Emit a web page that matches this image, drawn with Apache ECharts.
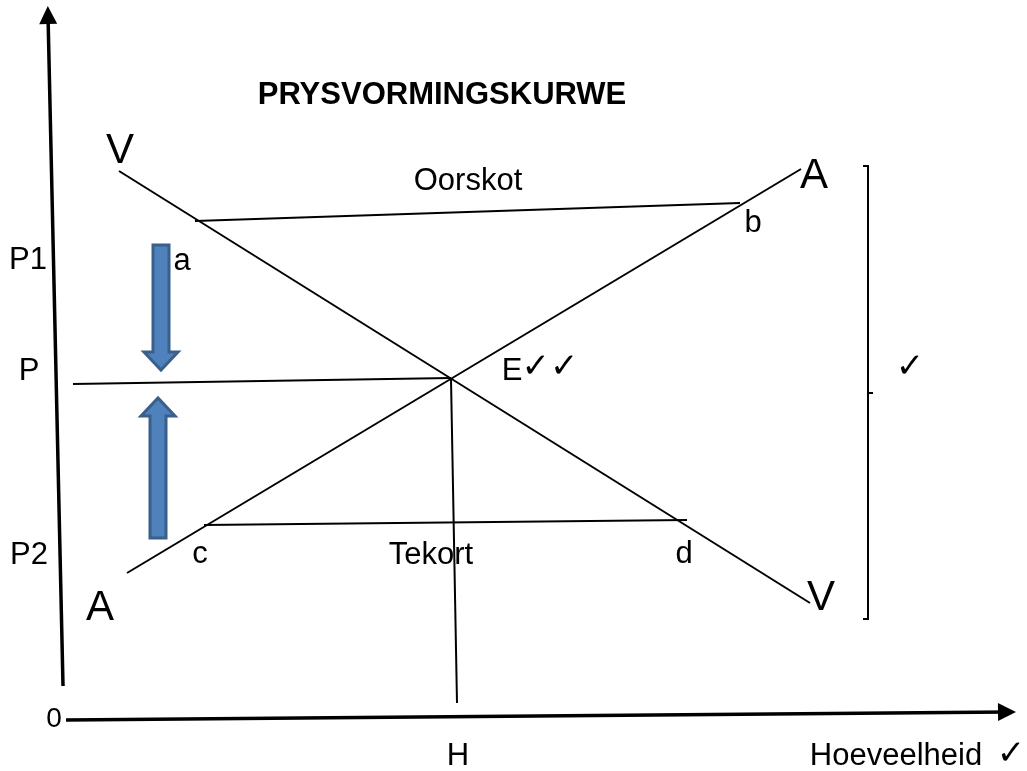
<!DOCTYPE html>
<html>
<head>
    <meta charset="utf-8" />
    <title>Prysvormingskurwe</title>
    <script src="https://cdn.jsdelivr.net/npm/echarts@6/dist/echarts.min.js"></script>
    <style>
        html, body { margin: 0; padding: 0; background: #fff; }
        #main { width: 1027px; height: 771px; }
    </style>
</head>
<body>
    <div id="main"></div>
    <script type="text/javascript">
        // diagram units: x = hoeveelheid, y = prys (y axis runs downwards, like the sketch)
        var axisLines = [
            [[63, 686], [48, 15]],     // prys-as
            [[66, 720], [1007, 712]]   // hoeveelheid-as
        ];
        var curveLines = [
            [[119, 171], [810, 603]],  // vraag V
            [[127, 573], [801, 169]],  // aanbod A
            [[73, 384], [451, 378]],   // P
            [[451, 379], [457, 703]],  // H
            [[195, 221], [740, 203]],  // oorskot a-b
            [[204, 525], [687, 520]]   // tekort c-d
        ];
        var bracketLines = [
            [[863, 166], [868, 166], [868, 619], [863, 619]],
            [[868, 393], [873, 393]]
        ];
        // blou pyle: [x, begin, punt]
        var priceArrows = [
            [161, 245, 370],
            [158, 538, 398]
        ];
        var labelTexts = ['PRYSVORMINGSKURWE', 'Oorskot', 'V', 'A', 'b', 'a', 'P1', 'P', 'E', '✓✓',
            'c', 'Tekort', 'd', 'P2', 'A', 'V', '✓', '0', 'H', 'Hoeveelheid', '✓'];
        var labelPos = [[442, 95], [468, 181], [120, 151], [814, 176], [753, 223], [182, 261],
            [28, 260], [29, 371], [512, 371], [550, 368], [200, 554], [431, 555], [684, 554], [29, 555],
            [100, 608], [821, 598], [910, 368], [54, 719], [458, 756], [896, 756], [1011, 755]];

        var bigLetters = ['V', 'A'];
        var fontFamily = '"Liberation Sans", Arial, "DejaVu Sans", sans-serif';

        function labelFont(text, i) {
            if (i == 0) return 'bold 31px ' + fontFamily;
            if (bigLetters.indexOf(text) > -1) return '42px ' + fontFamily;
            if (text.charAt(0) == '✓') return '34px "DejaVu Sans", sans-serif';
            if (text == '0') return '28px ' + fontFamily;
            return '31px ' + fontFamily;
        }

        function toLines(list) {
            var out = [];
            for (var i = 0; i < list.length; i++) out.push({ coords: list[i] });
            return out;
        }

        function renderArrow(params, api) {
            var start = api.coord([api.value(0), api.value(1)]);
            var tip = api.coord([api.value(0), api.value(2)]);
            var dir = tip[1] > start[1] ? 1 : -1;
            var x = start[0];
            var sw = 8, hw = 17, hl = 18;
            var base = tip[1] - dir * hl;
            return {
                type: 'polygon',
                shape: {
                    points: [[x - sw, start[1]], [x + sw, start[1]], [x + sw, base], [x + hw, base],
                        [x, tip[1]], [x - hw, base], [x - sw, base]]
                },
                style: { fill: '#4f81bd', stroke: '#3a5f8b', lineWidth: 3 }
            };
        }

        function renderLabel(params, api) {
            var p = api.coord([api.value(0), api.value(1)]);
            var text = labelTexts[params.dataIndex];
            return {
                type: 'text',
                x: p[0],
                y: p[1],
                style: {
                    text: text,
                    font: labelFont(text, params.dataIndex),
                    fill: '#000',
                    align: 'center',
                    verticalAlign: 'middle'
                }
            };
        }

        var myChart = echarts.init(document.getElementById('main'));
        myChart.setOption({
            animation: false,
            grid: { left: 0, right: 0, top: 0, bottom: 0 },
            xAxis: { type: 'value', min: 0, max: 1027, show: false },
            yAxis: { type: 'value', min: 0, max: 771, inverse: true, show: false },
            series: [
                {
                    type: 'lines',
                    coordinateSystem: 'cartesian2d',
                    symbol: ['none', 'triangle'],
                    symbolSize: [16, 18],
                    lineStyle: { color: '#000', width: 3.5, opacity: 1 },
                    data: toLines(axisLines)
                },
                {
                    type: 'lines',
                    coordinateSystem: 'cartesian2d',
                    lineStyle: { color: '#000', width: 2, opacity: 1 },
                    data: toLines(curveLines)
                },
                {
                    type: 'lines',
                    coordinateSystem: 'cartesian2d',
                    polyline: true,
                    lineStyle: { color: '#000', width: 2, opacity: 1 },
                    data: toLines(bracketLines)
                },
                {
                    type: 'custom',
                    renderItem: renderArrow,
                    data: priceArrows
                },
                {
                    type: 'custom',
                    renderItem: renderLabel,
                    data: labelPos
                }
            ]
        });
    </script>
</body>
</html>
